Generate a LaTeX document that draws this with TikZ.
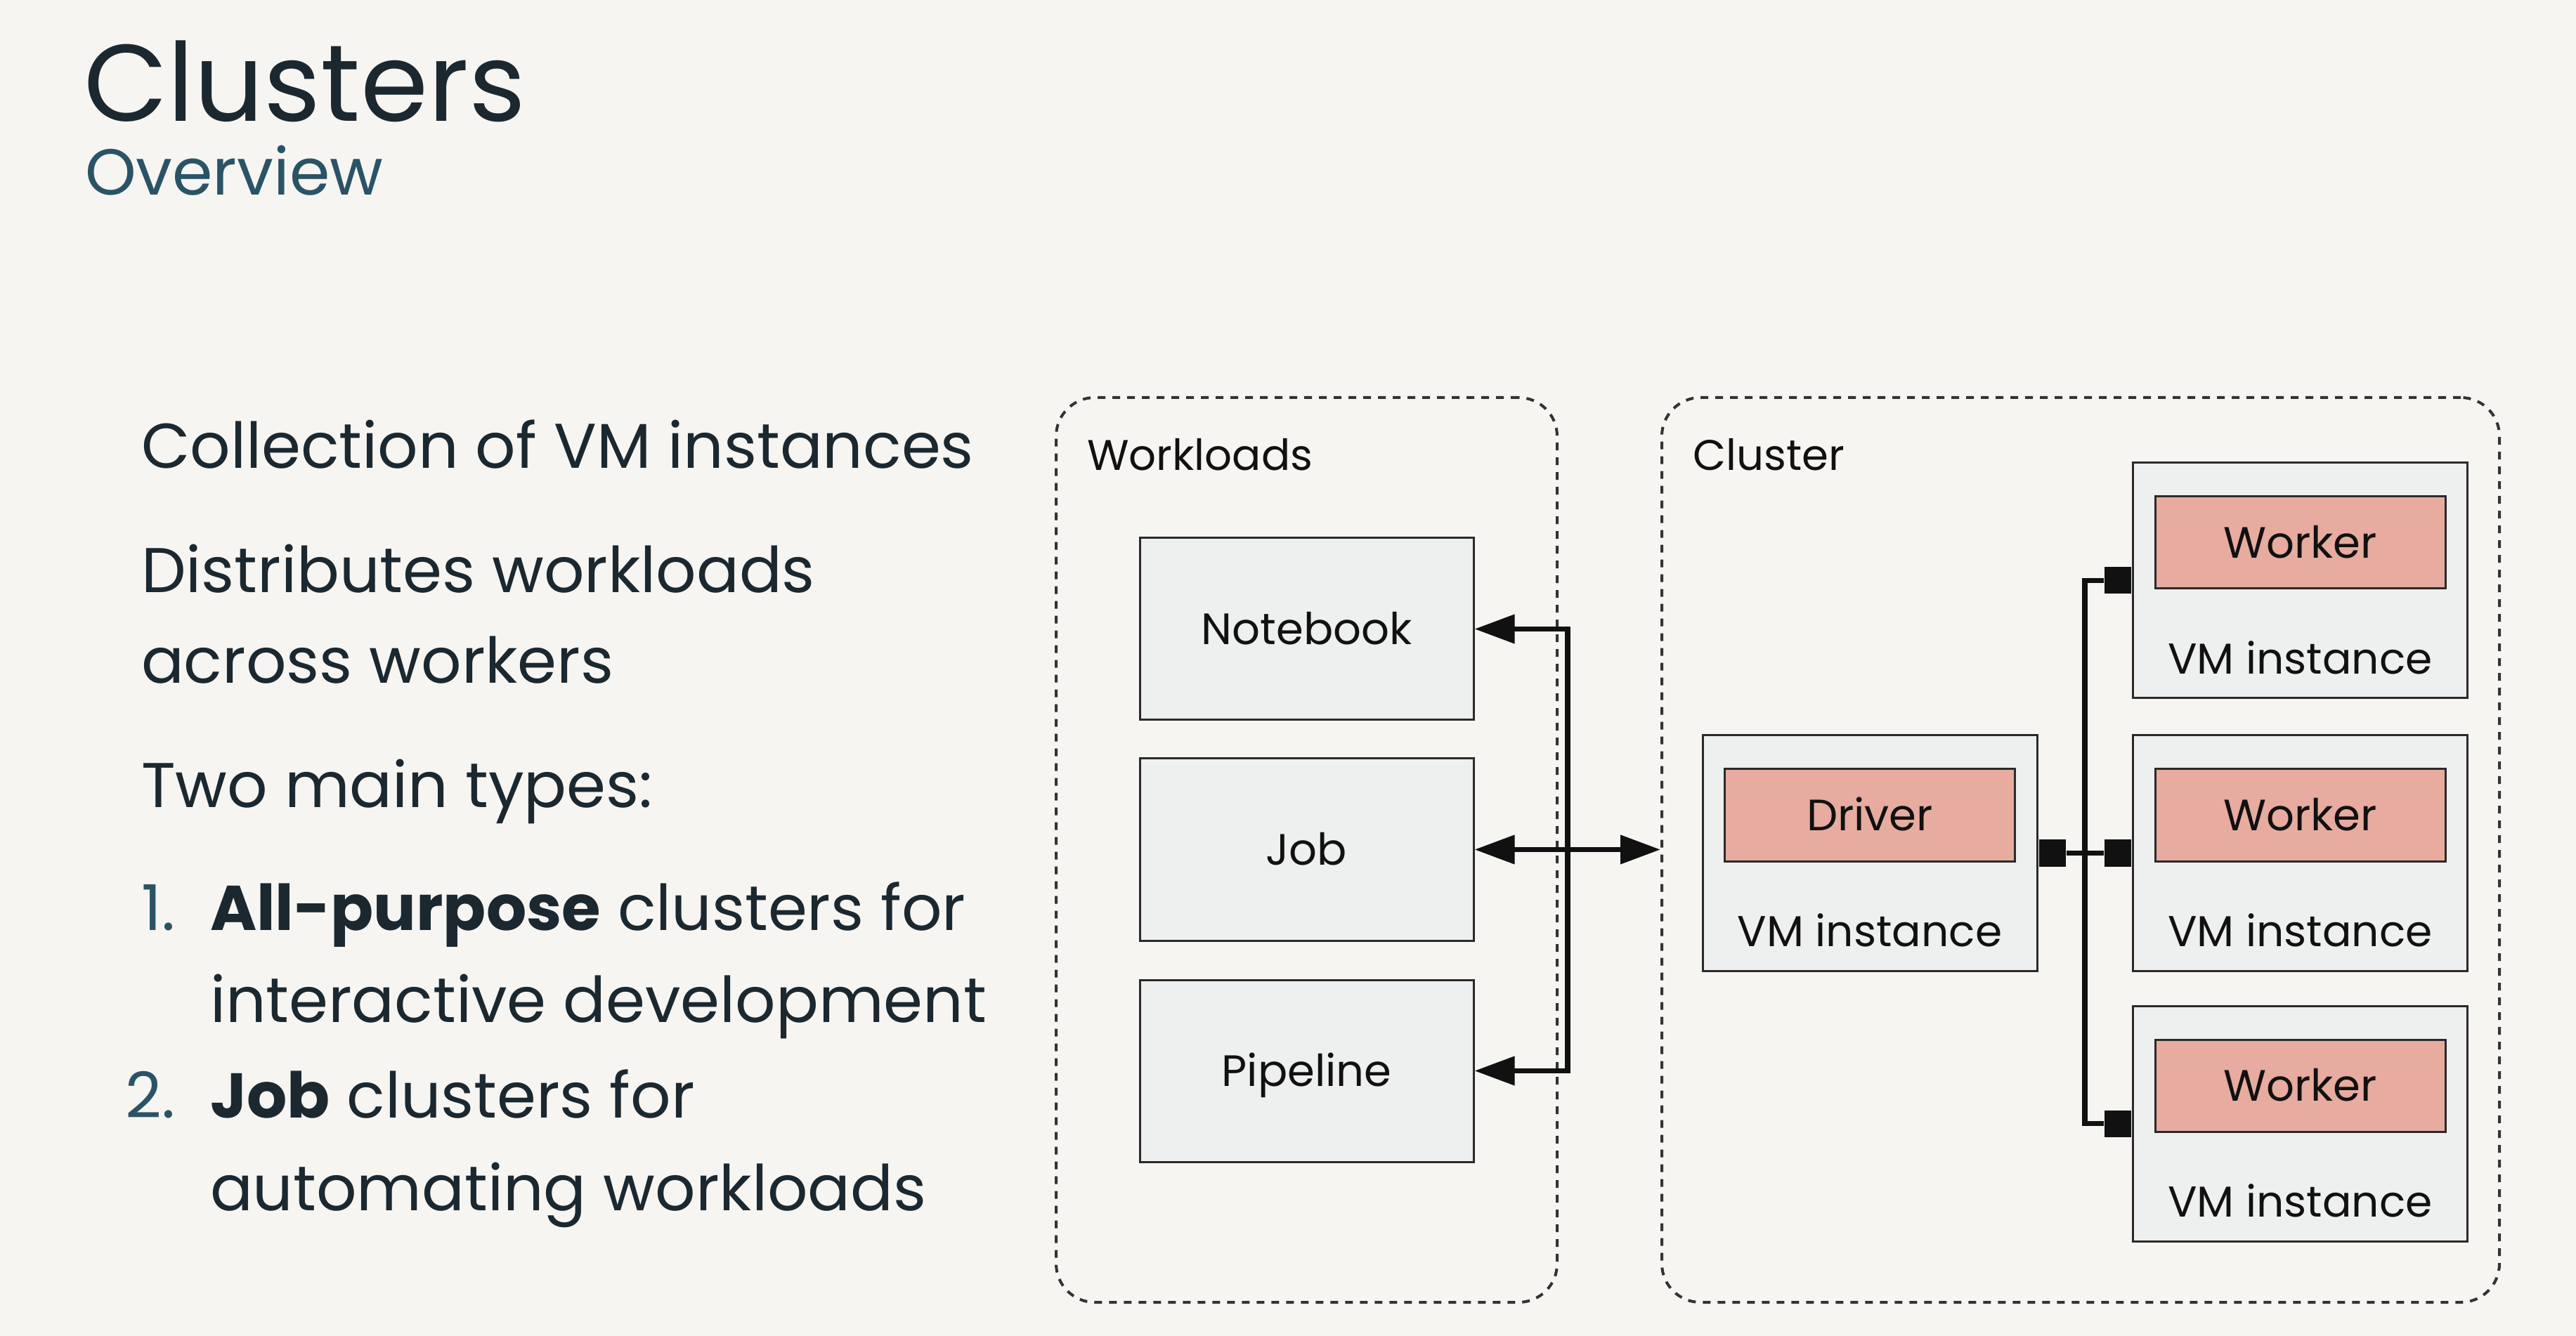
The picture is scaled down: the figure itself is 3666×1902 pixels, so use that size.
\documentclass[tikz,border=0pt]{standalone}
\usepackage{fontspec}
\setmainfont{Poppins}
\usetikzlibrary{arrows.meta}
\definecolor{bg}{HTML}{F6F5F2}
\definecolor{ink}{HTML}{1B2830}
\definecolor{tealc}{HTML}{2A5366}
\definecolor{boxfill}{HTML}{EEEFEF}
\definecolor{pinkc}{HTML}{E7ABA0}
\definecolor{edgec}{HTML}{2A2A2A}
\definecolor{linec}{HTML}{111111}
\begin{document}
\begin{tikzpicture}[x=0.2pt,y=-0.2pt,
  container/.style={draw=black!80, line width=0.8pt, dash pattern=on 2.2pt off 2pt, rounded corners=11pt, inner sep=0pt},
  wlbox/.style={draw=edgec, fill=boxfill, line width=0.6pt, minimum width=95pt, minimum height=51.8pt, inner sep=0pt, font=\fontsize{12.5}{15}\selectfont, text height=8.75pt, text depth=0pt, text=linec},
  vmbox/.style={draw=edgec, fill=boxfill, line width=0.6pt, minimum width=95.2pt, minimum height=67pt, inner sep=0pt},
  rolebox/.style={draw=edgec, fill=pinkc, line width=0.6pt, minimum width=82.6pt, minimum height=26.2pt, inner sep=0pt, font=\fontsize{12.5}{15}\selectfont, text height=8.75pt, text depth=0pt, text=linec},
  vmlabel/.style={font=\fontsize{12.3}{15}\selectfont, inner sep=0pt, text=linec, anchor=base},
  grouplabel/.style={font=\fontsize{12.2}{15}\selectfont, inner sep=0pt, text=linec, anchor=base west},
  bodytext/.style={font=\fontsize{18}{22}\selectfont, inner sep=0pt, text=ink, anchor=base west},
  numtext/.style={font=\fontsize{18}{22}\selectfont, inner sep=0pt, text=tealc, anchor=base east},
  sq/.style={fill=linec, minimum size=7.6pt, inner sep=0pt, draw=none},
  conn/.style={draw=linec, line width=1.5pt},
  tip/.tip={Triangle[length=11.4pt,width=8pt]}
]
\useasboundingbox (0,0) rectangle (3666,1902);
\fill[bg] (0,0) rectangle (3666,1902);

% title
\node[anchor=base west, inner sep=0pt, text=ink, font=\fontsize{31}{37}\selectfont] (title) at (118,173) {Clusters};
\node[anchor=base west, inner sep=0pt, text=tealc, font=\fontsize{18.5}{22}\selectfont] (subtitle) at (120,278) {Overview};

% left text
\node[bodytext] (t1) at (200,667) {Collection of VM instances};
\node[bodytext] (t2) at (200,844) {Distributes workloads};
\node[bodytext] (t3) at (200,973) {across workers};
\node[bodytext] (t4) at (200,1150) {Two main types:};
\node[numtext] (n1) at (250,1325) {1.};
\node[bodytext] (t5) at (298,1325) {\textbf{All-purpose} clusters for};
\node[bodytext] (t6) at (298,1455) {interactive development};
\node[numtext] (n2) at (250,1591) {2.};
\node[bodytext] (t7) at (298,1591) {\textbf{Job} clusters for};
\node[bodytext] (t8) at (298,1723) {automating workloads};

% containers
\node[container, minimum width=142.6pt, minimum height=257.6pt] (wl) at (1859.5,1210) {};
\node[container, minimum width=238.4pt, minimum height=257.6pt] (cl) at (2961,1210) {};
\node[grouplabel] (wllabel) at (1546,670) {Workloads};
\node[grouplabel] (cllabel) at (2408,670) {Cluster};

% workloads
\node[wlbox] (nb) at (1859.5,895.5) {Notebook};
\node[wlbox] (job) at (1859.5,1209.5) {Job};
\node[wlbox] (pl) at (1859.5,1524.5) {Pipeline};

% cluster
\node[vmbox] (dvm) at (2661,1214.5) {};
\node[vmbox] (w1vm) at (3273.5,826.5) {};
\node[vmbox] (w2vm) at (3273.5,1214.5) {};
\node[vmbox] (w3vm) at (3273.5,1599.5) {};
\foreach \b/\r/\t in {dvm/drv/Driver, w1vm/wk1/Worker, w2vm/wk2/Worker, w3vm/wk3/Worker}{
  \node[rolebox, anchor=north, yshift=-9.6pt] (\r) at (\b.north) {\t};
  \node[vmlabel] (\b lab) at ([yshift=7.2pt]\b.south) {VM instance};
}

% connector squares
\node[sq, anchor=west] (sqd) at (dvm.east) {};
\node[sq, anchor=east] (sq1) at (w1vm.west) {};
\node[sq, anchor=east] (sq2) at (w2vm.west) {};
\node[sq, anchor=east] (sq3) at (w3vm.west) {};
\coordinate (bus) at (2967,1214.5);
\draw[conn] (sq1.west) -| (bus) |- (sq3.west);
\draw[conn] (sqd.east) -- (sq2.west);

% workload arrows
\coordinate (wbus) at (2231,1209.5);
\draw[conn, tip-tip] (nb.east) -| (wbus) |- (pl.east);
\draw[conn, tip-tip] (job.east) -- (job.east -| cl.west);
\end{tikzpicture}
\end{document}
